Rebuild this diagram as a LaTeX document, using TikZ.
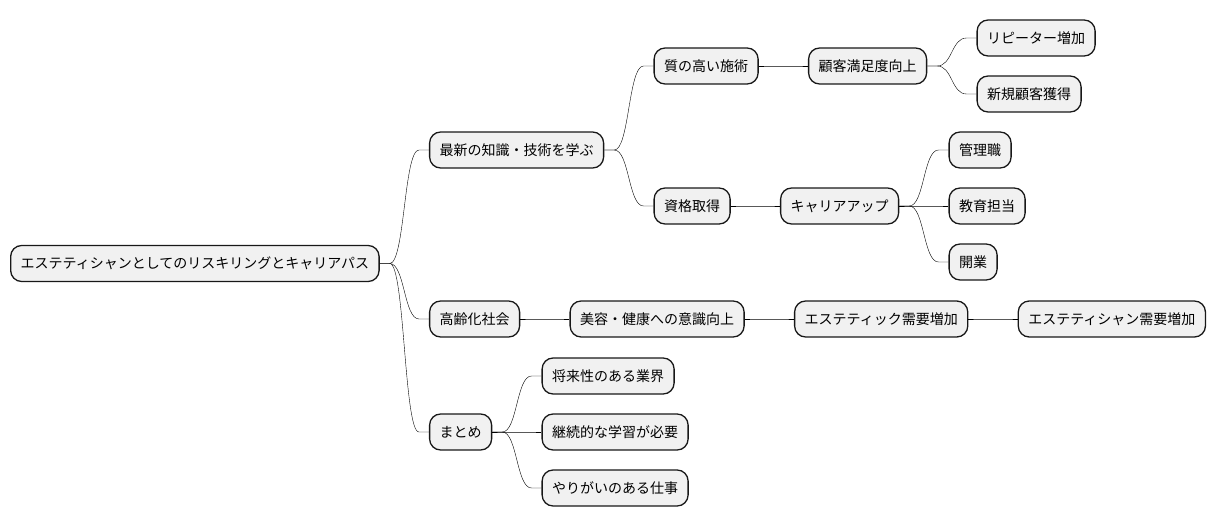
\documentclass[tikz,border=0pt]{standalone}
\usepackage{fontspec}
\setmainfont{Noto Sans CJK JP}
\usetikzlibrary{positioning,calc}
\definecolor{boxfill}{HTML}{F1F1F1}
\definecolor{boxline}{HTML}{181818}

\begin{document}
\begin{tikzpicture}[
  x=1pt, y=1pt,
  node distance=49.2pt,
  box/.style={draw=boxline, line width=1.3pt, fill=boxfill, rounded corners=11pt, minimum height=36pt, inner xsep=10pt, font=\fontsize{14pt}{16pt}\selectfont},
  link/.style={draw=boxline, line width=0.9pt, to path={-- ++(10pt,0) .. controls +(15pt,0) and ($(\tikztotarget.west)+(-25pt,0)$) .. ($(\tikztotarget.west)+(-10pt,0)$) -- (\tikztotarget.west)}}
]
\useasboundingbox (0,0) rectangle (1216,-527);
\node[box, anchor=west] (root) at (10,-263.5) {エステティシャンとしてのリスキリングとキャリアパス};
% first level
\node[box, right=of root, yshift=113.5pt] (learn) {最新の知識・技術を学ぶ};
\node[box, right=of root, yshift=-55.5pt] (aging) {高齢化社会};
\node[box, right=of root, yshift=-168.5pt] (summary) {まとめ};
% learn branch
\node[box, right=of learn, yshift=84pt] (quality) {質の高い施術};
\node[box, right=of learn, yshift=-56pt] (license) {資格取得};
\node[box, right=of quality] (satisfy) {顧客満足度向上};
\node[box, right=of satisfy, yshift=28pt] (repeat) {リピーター増加};
\node[box, right=of satisfy, yshift=-28pt] (newcust) {新規顧客獲得};
\node[box, right=of license] (careerup) {キャリアアップ};
\node[box, right=of careerup, yshift=56pt] (manager) {管理職};
\node[box, right=of careerup] (teacher) {教育担当};
\node[box, right=of careerup, yshift=-56pt] (ownshop) {開業};
% aging branch
\node[box, right=of aging] (beauty) {美容・健康への意識向上};
\node[box, right=of beauty] (demand) {エステティック需要増加};
\node[box, right=of demand] (esthe) {エステティシャン需要増加};
% summary branch
\node[box, right=of summary, yshift=56pt] (future) {将来性のある業界};
\node[box, right=of summary] (study) {継続的な学習が必要};
\node[box, right=of summary, yshift=-56pt] (worth) {やりがいのある仕事};

\foreach \a/\b in {root/learn, root/aging, root/summary,
  learn/quality, learn/license, quality/satisfy, satisfy/repeat, satisfy/newcust,
  license/careerup, careerup/manager, careerup/teacher, careerup/ownshop,
  aging/beauty, beauty/demand, demand/esthe,
  summary/future, summary/study, summary/worth}
  \draw (\a.east) to[link] (\b);
\end{tikzpicture}
\end{document}
